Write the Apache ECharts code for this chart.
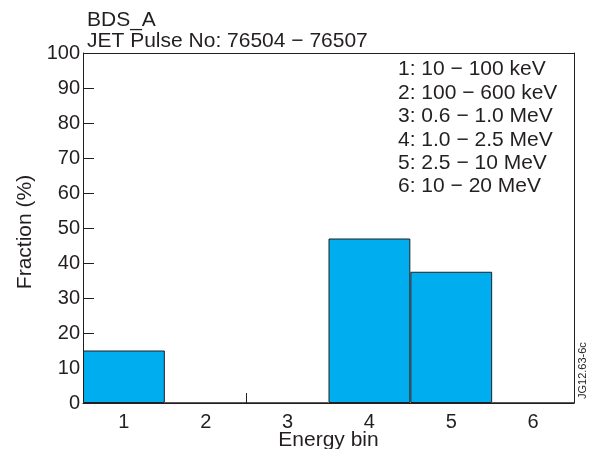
<!DOCTYPE html>
<html><head><meta charset="utf-8">
<script src="https://cdn.jsdelivr.net/npm/echarts@6/dist/echarts.min.js"></script>
<style>html,body{margin:0;padding:0;background:#fff}#c{width:590px;height:449px}</style>
</head><body><div id="c"></div>
<script>
const categories = ['1','2','3','4','5','6'];
const fractions = [15, 0, 0, 47, 37.5, 0];
const yTicks = [0,10,20,30,40,50,60,70,80,90,100];
const binLabels = ['1: 10 − 100 keV','2: 100 − 600 keV','3: 0.6 − 1.0 MeV','4: 1.0 − 2.5 MeV','5: 2.5 − 10 MeV','6: 10 − 20 MeV'];
const titleLines = ['BDS_A','JET Pulse No: 76504 − 76507'];

const font = 'Liberation Sans, Arial, sans-serif';
const ink = '#231f20';
const chart = echarts.init(document.getElementById('c'), null, {renderer:'canvas'});
chart.setOption({
  animation:false,
  textStyle:{fontFamily:font},
  grid:{left:83,right:16,top:53,bottom:46,containLabel:false,outerBoundsMode:'none'},
  title:{text:titleLines.join('\n'),left:82,top:5,textStyle:{fontFamily:font,fontSize:21,fontWeight:'normal',color:ink,lineHeight:21}},
  graphic:[
    {type:'text',left:398,top:58,style:{text:binLabels.join('\n'),font:'21px '+font,fill:ink,lineHeight:23.4}},
    {type:'text',x:577,y:399,rotation:Math.PI/2,style:{text:'JG12.63-6c',font:'11px '+font,fill:ink,align:'left',verticalAlign:'top'}}
  ],
  xAxis:{type:'category',data:categories,boundaryGap:true,
    name:'Energy bin',nameLocation:'middle',nameGap:27,nameMoveOverlap:false,nameTextStyle:{fontSize:21,color:ink,fontFamily:font},
    axisLine:{show:true,lineStyle:{color:ink,width:1}},
    axisTick:{show:true,inside:true,length:10,interval:function(i){return i===0||i===2;},lineStyle:{color:ink}},
    axisLabel:{fontSize:20,color:ink,margin:9,fontFamily:font},
    splitLine:{show:false}},
  yAxis:[{type:'value',min:0,max:100,interval:10,
    name:'Fraction (%)',nameLocation:'middle',nameGap:47,nameMoveOverlap:false,nameTextStyle:{fontSize:21,color:ink,fontFamily:font,padding:[0,8,0,0]},
    axisLine:{show:true,lineStyle:{color:ink,width:1}},
    axisTick:{show:true,inside:true,length:11,lineStyle:{color:ink}},
    axisLabel:{fontSize:20,color:ink,margin:3,fontFamily:font,
      formatter:function(v){return yTicks.indexOf(v)>=0?String(v):'';}},
    splitLine:{show:false}},
    {type:'value',min:0,max:100,position:'right',axisLine:{show:true,lineStyle:{color:ink,width:1}},axisTick:{show:false},axisLabel:{show:false},splitLine:{show:false}}],
  series:[
    {type:'bar',data:fractions,barWidth:'100%',barCategoryGap:'0%',
     itemStyle:{color:'#00aeef',borderColor:ink,borderWidth:1},
     markLine:{silent:true,symbol:'none',label:{show:false},
      lineStyle:{color:ink,width:1,type:'solid'},
      data:[{yAxis:100}]}}
  ]
});
</script></body></html>
